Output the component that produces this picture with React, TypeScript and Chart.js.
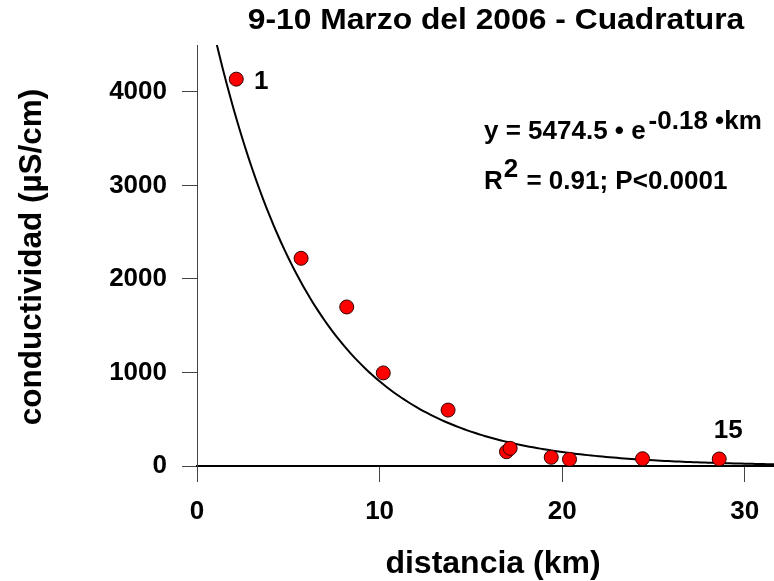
import React, { useEffect, useRef } from "react";
import { Chart, registerables } from "chart.js";

Chart.register(...registerables);

// ---- Chart content ----
const TITLE = "9-10 Marzo del 2006 - Cuadratura";
const X_TITLE = "distancia (km)";
const Y_TITLE = "conductividad (\u00b5S/cm)";

// measured stations
const distanciaKm = [2.15, 5.7, 8.2, 10.2, 13.75, 16.95, 17.15, 19.4, 20.4, 24.4, 28.6];
const conductividad = [4135, 2220, 1700, 995, 598, 153, 189, 93, 71, 78, 75];

// labels attached to stations (index into the arrays above)
const pointLabelIndex = [0, 10];
const pointLabelText = ["1", "15"];

// axes
const X_TICKS = [0, 10, 20, 30];
const Y_TICKS = [0, 1000, 2000, 3000, 4000];
const X_MIN = 0;
const X_MAX = 31.6;
const Y_MIN = 0;
const Y_MAX = 4500;

// exponential fit: y = A * e^(k * km)
const FIT_A = 5474.5;
const FIT_K = -0.18;
const FIT_STEP = 0.2;
const EQ_MAIN = "y = 5474.5 \u2022 e";
const EQ_EXP = "-0.18 \u2022km";
const R2_BASE = "R";
const R2_SUP = "2";
const R2_REST = " = 0.91; P<0.0001";

const FONT = '"Liberation Sans", Arial, Helvetica, sans-serif';

function fitCurve() {
  const pts: { x: number; y: number }[] = [];
  for (let x = X_MIN; x <= X_MAX + 1e-9; x += FIT_STEP) {
    pts.push({ x, y: FIT_A * Math.exp(FIT_K * x) });
  }
  return pts;
}

function stretchedText(ctx: CanvasRenderingContext2D, text: string, x: number, y: number, sx: number) {
  ctx.save();
  ctx.translate(x, y);
  ctx.scale(sx, 1);
  ctx.fillText(text, 0, 0);
  ctx.restore();
}

const textPlugin = {
  id: "textPlugin",
  afterDraw(chart: any) {
    const ctx: CanvasRenderingContext2D = chart.ctx;
    const xs = chart.scales.x;
    const ys = chart.scales.y;
    ctx.save();
    ctx.fillStyle = "#000";
    ctx.textBaseline = "alphabetic";

    // title
    ctx.font = `bold 30px ${FONT}`;
    ctx.textAlign = "center";
    stretchedText(ctx, TITLE, 496, 29, 1.06);

    // x title
    ctx.font = `bold 32px ${FONT}`;
    ctx.fillText(X_TITLE, 493, 573);

    // y title
    ctx.font = `bold 31.5px ${FONT}`;
    ctx.save();
    ctx.translate(41, 257);
    ctx.rotate(-Math.PI / 2);
    ctx.fillText(Y_TITLE, 0, 0);
    ctx.restore();

    // equation
    ctx.font = `bold 26px ${FONT}`;
    ctx.textAlign = "left";
    let x = 484;
    ctx.fillText(EQ_MAIN, x, 139);
    x += ctx.measureText(EQ_MAIN).width + 3;
    ctx.fillText(EQ_EXP, x, 129);

    x = 484;
    ctx.fillText(R2_BASE, x, 189);
    x += ctx.measureText(R2_BASE).width + 1;
    ctx.fillText(R2_SUP, x, 177);
    x += ctx.measureText(R2_SUP).width + 1;
    ctx.fillText(R2_REST, x, 189);

    // point labels
    ctx.textAlign = "center";
    pointLabelIndex.forEach((idx, i) => {
      const px = xs.getPixelForValue(distanciaKm[idx]);
      const py = ys.getPixelForValue(conductividad[idx]);
      if (i === 0) ctx.fillText(pointLabelText[i], px + 25, py + 10);
      else ctx.fillText(pointLabelText[i], px + 9, py - 21);
    });
    ctx.restore();
  },
};

export default function App() {
  const canvasRef = useRef<HTMLCanvasElement | null>(null);

  useEffect(() => {
    if (!canvasRef.current) return;
    const tickFont = { family: FONT, size: 26, weight: "bold" as const };
    const chart = new Chart(canvasRef.current, {
      type: "scatter",
      data: {
        datasets: [
          {
            label: "conductividad",
            data: distanciaKm.map((d, i) => ({ x: d, y: conductividad[i] })),
            backgroundColor: "#ff0000",
            borderColor: "#300000",
            borderWidth: 1,
            pointRadius: 7,
            pointHoverRadius: 7,
            showLine: false,
          },
          {
            label: "ajuste",
            data: fitCurve(),
            showLine: true,
            borderColor: "#000",
            borderWidth: 2,
            pointRadius: 0,
            pointHoverRadius: 0,
            fill: false,
            tension: 0,
          },
        ],
      },
      options: {
        responsive: false,
        animation: false,
        events: [],
        layout: { autoPadding: false, padding: { top: 45, left: 0, right: 0, bottom: 0 } },
        plugins: {
          legend: { display: false },
          tooltip: { enabled: false },
          title: { display: false },
        },
        scales: {
          x: {
            type: "linear",
            min: X_MIN,
            max: X_MAX,
            afterBuildTicks: (s: any) => {
              s.ticks = X_TICKS.map((v) => ({ value: v }));
            },
            afterFit: (s: any) => {
              s.height = 115;
              s.paddingLeft = 0;
              s.paddingRight = 0;
            },
            grid: {
              drawOnChartArea: false,
              drawTicks: true,
              tickLength: 16,
              tickColor: "#444",
              tickWidth: 1,
            },
            border: { display: true, color: "#000", width: 2 },
            ticks: {
              font: tickFont,
              color: "#000",
              padding: 14,
              maxRotation: 0,
              autoSkip: false,
              callback: (v: any) => String(v),
            },
          },
          y: {
            type: "linear",
            min: Y_MIN,
            max: Y_MAX,
            afterBuildTicks: (s: any) => {
              s.ticks = Y_TICKS.map((v) => ({ value: v }));
            },
            afterFit: (s: any) => {
              s.width = 197;
              s.paddingTop = 0;
              s.paddingBottom = 0;
            },
            grid: {
              drawOnChartArea: false,
              drawTicks: true,
              tickLength: 15,
              tickColor: "#444",
              tickWidth: 1,
            },
            border: { display: true, color: "#444", width: 1 },
            ticks: {
              font: tickFont,
              color: "#000",
              padding: 15,
              autoSkip: false,
              callback: (v: any) => String(v),
            },
          },
        },
      },
      plugins: [textPlugin],
    });
    return () => chart.destroy();
  }, []);

  return (
    <div style={{ position: "fixed", left: 0, top: 0, width: 774, height: 581, background: "#fff" }}>
      <canvas ref={canvasRef} width={774} height={581} style={{ display: "block" }} />
    </div>
  );
}
